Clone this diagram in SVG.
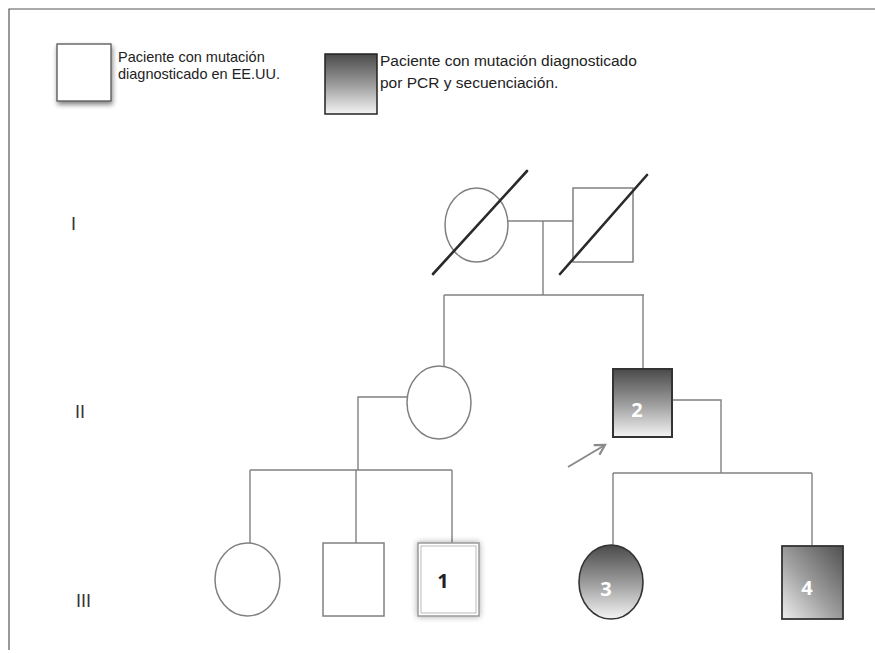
<svg xmlns="http://www.w3.org/2000/svg" width="875" height="653" viewBox="0 0 875 653">
<defs>
<style>
.ln{fill:none;stroke:#808080;stroke-width:1.4}
.shp{fill:#fff;stroke:#808080;stroke-width:1.5}
.slash{stroke:#2a2a2a;stroke-width:2.6;stroke-linecap:round}
.lbl{font-family:"Liberation Sans",Arial,sans-serif;fill:#222}
.gen{font-family:"Liberation Sans",Arial,sans-serif;font-size:18px;fill:#333}
.num{font-family:"Open Sans","Liberation Sans",sans-serif;font-weight:bold;font-size:20px;text-anchor:middle}
</style>
<linearGradient id="gv" x1="0" y1="0" x2="0" y2="1">
<stop offset="0" stop-color="#4a4a4a"/>
<stop offset="0.5" stop-color="#9a9a9a"/>
<stop offset="1" stop-color="#f4f4f4"/>
</linearGradient>
<linearGradient id="gd" x1="1" y1="0" x2="0" y2="1">
<stop offset="0" stop-color="#505050"/>
<stop offset="0.55" stop-color="#a0a0a0"/>
<stop offset="1" stop-color="#eeeeee"/>
</linearGradient>
<filter id="sh" x="-30%" y="-30%" width="160%" height="160%">
<feGaussianBlur in="SourceAlpha" stdDeviation="2.5"/>
<feOffset dx="1" dy="3"/>
<feComponentTransfer><feFuncA type="linear" slope="0.5"/></feComponentTransfer>
<feMerge><feMergeNode/><feMergeNode in="SourceGraphic"/></feMerge>
</filter>
<filter id="glow" x="-30%" y="-30%" width="160%" height="160%">
<feGaussianBlur in="SourceAlpha" stdDeviation="3"/>
<feComponentTransfer><feFuncA type="linear" slope="0.35"/></feComponentTransfer>
<feMerge><feMergeNode/><feMergeNode in="SourceGraphic"/></feMerge>
</filter>
<marker id="arr" viewBox="0 0 10 10" refX="8" refY="5" markerWidth="7" markerHeight="7" orient="auto">
<path d="M1,1 L8,5 L1,9" fill="none" stroke="#8a8a8a" stroke-width="1.6"/>
</marker>
</defs>
<rect width="875" height="653" fill="#fff"/>
<g id="frame">
<path d="M9,650 V9 H875" fill="none" stroke="#555" stroke-width="1.2"/>
</g>
<g id="legend">
<rect x="57" y="44" width="54" height="57" fill="#fff" stroke="#555" stroke-width="1.3" filter="url(#sh)"/>
<text class="lbl" x="118" y="62" font-size="14.5">Paciente con mutación</text>
<text class="lbl" x="118" y="79" font-size="14.5">diagnosticado en EE.UU.</text>
<rect x="325" y="54" width="52" height="60" fill="url(#gv)" stroke="#222" stroke-width="1.5"/>
<text class="lbl" x="380" y="66" font-size="15.5">Paciente con mutación diagnosticado</text>
<text class="lbl" x="380" y="88" font-size="15.5">por PCR y secuenciación.</text>
</g>
<g id="generations">
<text class="gen" x="71" y="230">I</text>
<text class="gen" x="75" y="418">II</text>
<text class="gen" x="76" y="607">III</text>
</g>
<g id="connectors">
<path class="ln" d="M508,221 H573"/>
<path class="ln" d="M543,221 V295"/>
<path class="ln" d="M444,295 H644"/>
<path class="ln" d="M444,295 V366"/>
<path class="ln" d="M643,295 V369"/>
<path class="ln" d="M407,397 H358 V470"/>
<path class="ln" d="M250,470 H452"/>
<path class="ln" d="M250,470 V543"/>
<path class="ln" d="M356,470 V543"/>
<path class="ln" d="M452,470 V543"/>
<path class="ln" d="M672,400 H721 V473"/>
<path class="ln" d="M613,473 H812"/>
<path class="ln" d="M613,473 V545"/>
<path class="ln" d="M812,473 V545"/>
<path d="M568,467 L605,445" stroke="#8a8a8a" stroke-width="2" fill="none" marker-end="url(#arr)"/>
</g>
<g id="I-1">
<ellipse class="shp" cx="476.5" cy="225" rx="31.5" ry="37"/>
<line class="slash" x1="433" y1="274" x2="527" y2="171"/>
</g>
<g id="I-2">
<rect class="shp" x="573" y="188" width="60" height="74"/>
<line class="slash" x1="560" y1="274" x2="647" y2="175"/>
</g>
<g id="II-1">
<ellipse class="shp" cx="439" cy="402.5" rx="32" ry="36.5"/>
</g>
<g id="II-2">
<rect x="613" y="369" width="59" height="68" fill="url(#gv)" stroke="#333" stroke-width="2"/>
<text class="num" x="637" y="417" fill="#fff" font-size="19">2</text>
</g>
<g id="III-1">
<ellipse class="shp" cx="247.5" cy="579.5" rx="32.5" ry="36.5"/>
</g>
<g id="III-2">
<rect class="shp" x="323" y="543" width="61" height="73"/>
</g>
<g id="III-3">
<rect x="418" y="543" width="61" height="73" fill="#fff" stroke="#999" stroke-width="1.5" filter="url(#glow)"/>
<rect x="421" y="546" width="55" height="67" fill="#fff" stroke="#bbb" stroke-width="1"/>
<text class="num" x="443" y="588" fill="#222">1</text>
</g>
<g id="III-4">
<ellipse cx="611" cy="582" rx="32" ry="37" fill="url(#gv)" stroke="#333" stroke-width="1.6"/>
<text class="num" x="606" y="596" fill="#fff">3</text>
</g>
<g id="III-5">
<rect x="782" y="546" width="61" height="73" fill="url(#gd)" stroke="#333" stroke-width="1.8"/>
<text class="num" x="807" y="595" fill="#fff">4</text>
</g>
</svg>
